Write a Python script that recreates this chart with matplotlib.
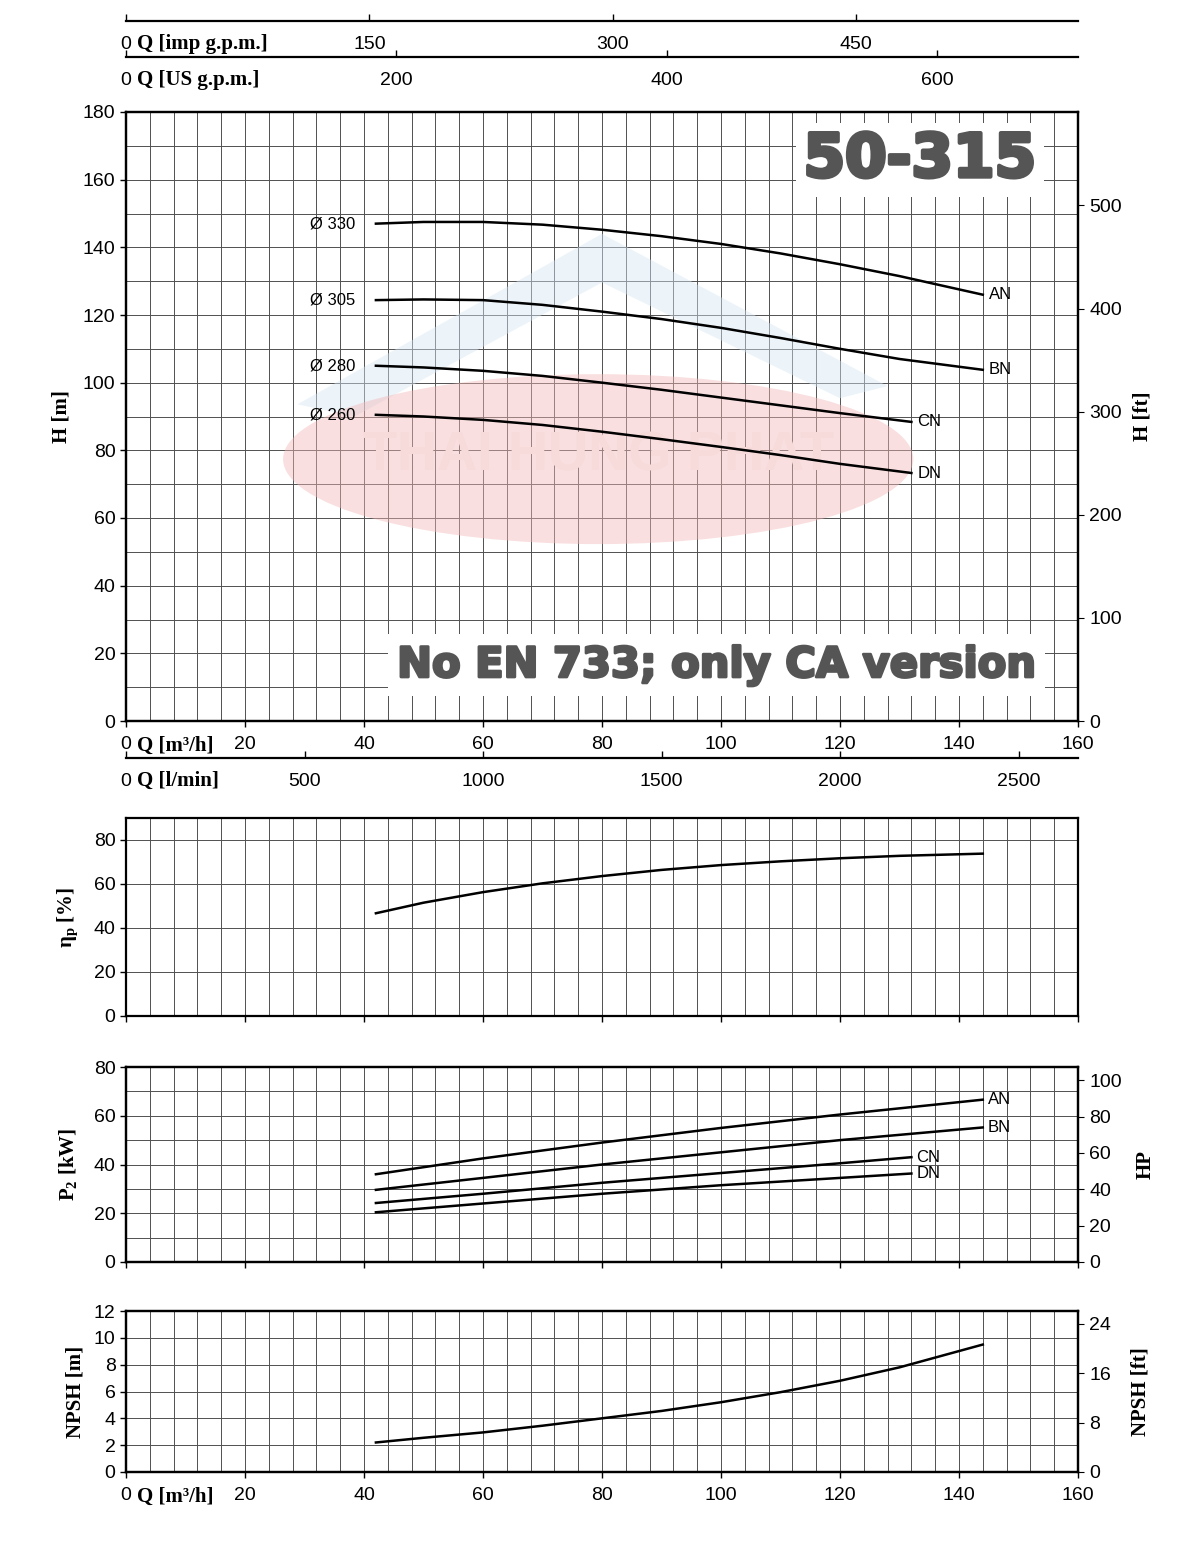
import numpy as np
import matplotlib.pyplot as plt
from matplotlib.patches import Ellipse, Polygon
import matplotlib.patheffects as pe

# ---- data ----
q_h = [42, 50, 60, 70, 80, 90, 100, 110, 120, 130, 144]
h_an = [147, 147.5, 147.5, 146.7, 145.2, 143.3, 141, 138.2, 135, 131.5, 126]
h_bn = [124.4, 124.6, 124.4, 123, 121, 118.8, 116.2, 113.2, 110, 107, 103.8]
q_h_small = [42, 50, 60, 70, 80, 90, 100, 110, 120, 132]
h_cn = [105, 104.5, 103.5, 102, 100, 97.9, 95.6, 93.3, 91, 88.4]
h_dn = [90.5, 90, 89, 87.5, 85.5, 83.3, 81, 78.6, 76, 73.3]
diam_labels = ["Ø 330", "Ø 305", "Ø 280", "Ø 260"]
curve_names = ["AN", "BN", "CN", "DN"]

q_eta = [42, 50, 60, 70, 80, 90, 100, 110, 120, 130, 144]
eta = [46.7, 51.5, 56.3, 60.3, 63.6, 66.4, 68.6, 70.3, 71.7, 72.8, 73.8]

q_p = [42, 60, 80, 100, 120, 144]
p_an = [36, 42.5, 49, 55, 60.5, 66.6]
p_bn = [29.6, 34.5, 40, 45, 50, 55.2]
q_p_small = [42, 60, 80, 100, 120, 132]
p_cn = [24.2, 28, 32.5, 36.5, 40.5, 43]
p_dn = [20.4, 24, 28, 31.5, 34.5, 36.3]

q_npsh = [42, 50, 60, 70, 80, 90, 100, 110, 120, 130, 144]
npsh = [2.2, 2.55, 2.95, 3.45, 4.0, 4.55, 5.2, 5.95, 6.8, 7.8, 9.5]

W, H = 1200, 1542
SANS = ['Liberation Sans', 'DejaVu Sans']
SERIF = ['Liberation Serif', 'DejaVu Serif']
plt.rcParams['font.family'] = SANS

fig = plt.figure(figsize=(12, 15.42), dpi=100)


def box(l, t, r, b):
    return [l / W, 1 - b / H, (r - l) / W, (b - t) / H]


def qlabel(y, text):
    # serif axis name sitting just right of the "0" tick label
    fig.text(137 / W, 1 - y / H, text, family=SERIF, fontsize=15,
             fontweight='bold', ha='left', va='center')


GRID = '#505050'
TICK = 14


def style_panel(ax, ymax, ystep_grid, ystep_lab, labels=False):
    ax.set_xlim(0, 160)
    ax.set_ylim(0, ymax)
    for v in np.arange(4, 160, 4):
        ax.axvline(v, color=GRID, lw=0.7, zorder=1)
    for v in np.arange(ystep_grid, ymax, ystep_grid):
        ax.axhline(v, color=GRID, lw=0.7, zorder=1)
    ax.set_xticks(np.arange(0, 161, 20))
    ax.set_yticks(np.arange(0, ymax + 0.01, ystep_lab))
    ax.tick_params(axis='both', direction='out', length=4.5, width=1,
                   labelsize=TICK, pad=3)
    ax.tick_params(axis='x', pad=6)
    if not labels:
        ax.set_xticklabels([])
    for s in ax.spines.values():
        s.set_linewidth(1.6)


def right_axis(ax, top, ticks, label, pad):
    a = ax.twinx()
    a.set_ylim(0, top)
    a.set_yticks(ticks)
    a.tick_params(direction='out', length=4.5, labelsize=TICK)
    a.set_ylabel(label, family=SERIF, fontsize=15, fontweight='bold',
                 labelpad=pad)
    for s in a.spines.values():
        s.set_linewidth(1.6)
    return a


# ---- main head chart ----
ax = fig.add_axes(box(126, 112, 1078, 721))
style_panel(ax, 180, 10, 20, labels=True)

# watermark
ax.add_patch(Polygon([[0.18, 0.52], [0.50, 0.80], [0.80, 0.55], [0.75, 0.53],
                      [0.50, 0.72], [0.24, 0.50]], closed=True,
                     transform=ax.transAxes, facecolor='#d6e7f5',
                     edgecolor='none', alpha=0.45, zorder=2))
ax.add_patch(Ellipse((0.496, 0.43), 0.662, 0.279, transform=ax.transAxes,
                     facecolor='#f3b8b8', edgecolor='none', alpha=0.45, zorder=2))
ax.text(0.496, 0.435, "THAI HUNG PHAT", transform=ax.transAxes, fontsize=40,
        fontweight='bold', color='#f7dada', ha='center', va='center', zorder=2)

for q, h in [(q_h, h_an), (q_h, h_bn), (q_h_small, h_cn), (q_h_small, h_dn)]:
    ax.plot(q, h, color='black', lw=1.8, zorder=4)
for lab, h in zip(diam_labels, [h_an, h_bn, h_cn, h_dn]):
    ax.text(38.5, h[0], lab, fontsize=12, ha='right', va='center', zorder=5)
for lab, q, h in zip(curve_names, [q_h, q_h, q_h_small, q_h_small],
                     [h_an, h_bn, h_cn, h_dn]):
    ax.text(q[-1] + 1, h[-1], lab, fontsize=12, ha='left', va='center', zorder=5)

ax.text(0.834, 0.921, "50-315", transform=ax.transAxes, fontsize=43,
        family=['DejaVu Sans'], fontweight='bold', color='#555555',
        ha='center', va='center', zorder=6,
        bbox=dict(facecolor='white', edgecolor='none', pad=5),
        path_effects=[pe.withStroke(linewidth=3, foreground='#555555')])
ax.text(0.62, 0.092, "No EN 733; only CA version", transform=ax.transAxes,
        fontsize=30, family=['DejaVu Sans'], fontweight='bold',
        color='#555555', ha='center', va='center', zorder=6,
        bbox=dict(facecolor='white', edgecolor='none', pad=7),
        path_effects=[pe.withStroke(linewidth=2, foreground='#555555')])

ax.set_ylabel("H [m]", family=SERIF, fontsize=15, fontweight='bold', labelpad=8)
qlabel(746, "Q [m³/h]")
right_axis(ax, 180 / 0.3048, np.arange(0, 501, 100), "H [ft]", 8)


# ---- extra flow scales ----
def flow_scale(t, qmax, ticks):
    a = fig.add_axes(box(126, t, 1078, t + 1))
    a.set_xlim(0, qmax)
    a.set_ylim(0, 1)
    for side in ['top', 'left', 'right']:
        a.spines[side].set_visible(False)
    a.spines['bottom'].set_linewidth(1.6)
    a.set_yticks([])
    a.set_xticks(ticks)
    a.set_xticklabels([str(v) for v in ticks])
    a.tick_params(axis='x', direction='in', length=5, width=1,
                  labelsize=TICK, pad=11)
    a.patch.set_visible(False)
    return a


flow_scale(20, 160 / 0.272765, [0, 150, 300, 450])
qlabel(44, "Q [imp g.p.m.]")
flow_scale(56, 160 / 0.227125, [0, 200, 400, 600])
qlabel(80, "Q [US g.p.m.]")
flow_scale(757, 160 * 1000 / 60, [0, 500, 1000, 1500, 2000, 2500])
qlabel(781, "Q [l/min]")

# ---- efficiency ----
ax2 = fig.add_axes(box(126, 818, 1078, 1016))
style_panel(ax2, 90, 20, 20)
ax2.plot(q_eta, eta, color='black', lw=1.8, zorder=4)
ax2.set_ylabel(r"$\mathregular{\eta_p}$ [%]", family=SERIF, fontsize=15,
               fontweight='bold', labelpad=10)

# ---- power ----
ax3 = fig.add_axes(box(126, 1067, 1078, 1262))
style_panel(ax3, 80, 10, 20)
for q, p in [(q_p, p_an), (q_p, p_bn), (q_p_small, p_cn), (q_p_small, p_dn)]:
    ax3.plot(q, p, color='black', lw=1.8, zorder=4)
for lab, q, p in zip(curve_names, [q_p, q_p, q_p_small, q_p_small],
                     [p_an, p_bn, p_cn, p_dn]):
    ax3.text(q[-1] + 0.8, p[-1], lab, fontsize=12, ha='left',
             va='center', zorder=5)
ax3.set_ylabel(r"P$_\mathregular{2}$ [kW]", family=SERIF, fontsize=15,
               fontweight='bold', labelpad=10)
right_axis(ax3, 80 / 0.7457, np.arange(0, 101, 20), "HP", 10)

# ---- NPSH ----
ax4 = fig.add_axes(box(126, 1311, 1078, 1472))
style_panel(ax4, 12, 2, 2, labels=True)
ax4.plot(q_npsh, npsh, color='black', lw=1.8, zorder=4)
ax4.set_ylabel("NPSH [m]", family=SERIF, fontsize=15, fontweight='bold',
               labelpad=6)
qlabel(1497, "Q [m³/h]")
right_axis(ax4, 26.1, [0, 8, 16, 24], "NPSH [ft]", 14)

fig.savefig("out.png", dpi=100)
